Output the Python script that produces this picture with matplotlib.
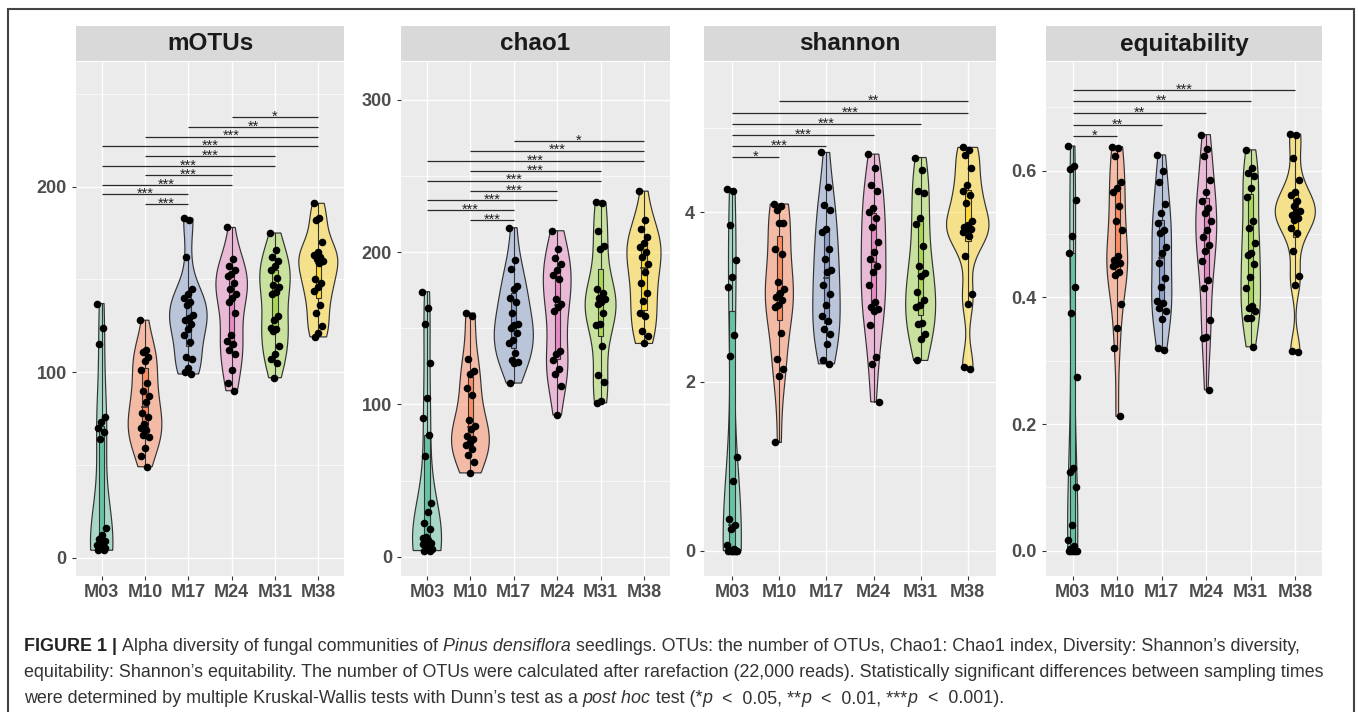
import numpy as np
import matplotlib
matplotlib.use("Agg")
import matplotlib.pyplot as plt
from matplotlib.patches import Rectangle, Polygon
from matplotlib.colors import to_rgba
from matplotlib.ticker import MultipleLocator, FormatStrFormatter

plt.rcParams['font.family'] = ['Liberation Sans', 'DejaVu Sans']

groups = ["M03", "M10", "M17", "M24", "M31", "M38"]
colors = ["#66C2A5", "#FC8D62", "#8DA0CB", "#E78AC3", "#A6D854", "#FFD92F"]

# sample values per sampling time
motus = [
    [137, 124, 115, 76, 73, 70, 68, 64, 16, 12, 10, 9, 8, 7, 6, 6, 5, 5, 4, 4],
    [128, 112, 111, 108, 106, 101, 94, 90, 87, 84, 78, 76, 72, 70, 69, 66, 65, 59, 55, 49],
    [183, 182, 162, 145, 142, 140, 138, 136, 131, 129, 128, 126, 123, 120, 116, 108, 107, 102, 100, 99],
    [178, 161, 157, 155, 153, 152, 148, 145, 142, 140, 138, 132, 120, 117, 115, 112, 110, 101, 94, 90],
    [175, 166, 162, 160, 157, 155, 151, 147, 146, 143, 142, 130, 128, 124, 123, 122, 114, 110, 107, 105, 97],
    [191, 183, 182, 170, 165, 163, 162, 161, 160, 159, 150, 148, 146, 144, 136, 132, 125, 121, 119],
]
chao1 = [
    [174, 163, 153, 127, 104, 91, 80, 66, 35, 29, 22, 18, 13, 12, 11, 10, 9, 9, 8, 7, 6, 5, 5, 4, 4],
    [160, 158, 130, 122, 120, 111, 106, 90, 86, 84, 79, 77, 75, 73, 71, 67, 62, 55],
    [216, 195, 189, 178, 176, 170, 167, 160, 153, 152, 150, 147, 142, 140, 134, 129, 128, 127, 114],
    [214, 202, 196, 192, 188, 185, 182, 169, 166, 164, 161, 135, 133, 129, 123, 120, 112, 93],
    [233, 232, 214, 204, 202, 176, 173, 170, 169, 167, 166, 160, 153, 152, 138, 119, 115, 102, 101],
    [240, 221, 215, 210, 206, 203, 200, 197, 192, 187, 180, 173, 168, 160, 158, 148, 145, 140],
]
shannon = [
    [4.28, 4.25, 3.85, 3.44, 3.24, 3.12, 2.55, 2.30, 1.11, 0.82, 0.37, 0.30, 0.26, 0.07, 0.02, 0.01,
     0.0, 0.0, 0.0, 0.0, 0.0, 0.0, 0.0],
    [4.10, 4.08, 4.03, 3.88, 3.87, 3.57, 3.51, 3.18, 3.10, 3.05, 3.00, 2.96, 2.91, 2.88, 2.58, 2.27, 2.15, 2.07, 1.28],
    [4.71, 4.30, 4.09, 4.03, 3.81, 3.77, 3.57, 3.45, 3.32, 3.30, 3.14, 3.04, 2.90, 2.78, 2.72, 2.62, 2.56, 2.45, 2.25, 2.21],
    [4.69, 4.53, 4.32, 4.25, 4.05, 4.01, 3.93, 3.83, 3.65, 3.53, 3.45, 3.37, 3.30, 3.14, 2.94, 2.88, 2.86, 2.84,
     2.67, 2.29, 2.21, 1.76],
    [4.65, 4.50, 4.25, 4.23, 3.93, 3.86, 3.60, 3.37, 3.28, 3.25, 3.06, 2.96, 2.90, 2.88, 2.69, 2.68, 2.56, 2.50, 2.25],
    [4.77, 4.74, 4.68, 4.53, 4.32, 4.25, 4.21, 4.11, 3.90, 3.85, 3.83, 3.81, 3.80, 3.77, 3.72, 3.49, 3.04, 2.92,
     2.17, 2.15],
]
equit = [
    [0.639, 0.607, 0.602, 0.554, 0.497, 0.470, 0.417, 0.375, 0.275, 0.13, 0.125, 0.10, 0.04, 0.017, 0.007, 0.003,
     0.0, 0.0, 0.0, 0.0, 0.0],
    [0.638, 0.636, 0.624, 0.583, 0.573, 0.567, 0.545, 0.520, 0.507, 0.465, 0.459, 0.455, 0.452, 0.449, 0.44,
     0.436, 0.390, 0.352, 0.320, 0.212],
    [0.625, 0.600, 0.582, 0.548, 0.533, 0.518, 0.507, 0.502, 0.480, 0.470, 0.454, 0.431, 0.417, 0.394, 0.391,
     0.383, 0.379, 0.366, 0.320, 0.317],
    [0.657, 0.634, 0.624, 0.586, 0.566, 0.553, 0.541, 0.533, 0.520, 0.507, 0.495, 0.482, 0.474, 0.457, 0.428,
     0.415, 0.364, 0.338, 0.336, 0.254],
    [0.633, 0.604, 0.597, 0.591, 0.573, 0.559, 0.520, 0.510, 0.486, 0.470, 0.467, 0.452, 0.433, 0.415, 0.386,
     0.383, 0.378, 0.367, 0.367, 0.322],
    [0.658, 0.656, 0.620, 0.586, 0.566, 0.562, 0.552, 0.545, 0.536, 0.535, 0.530, 0.525, 0.523, 0.510, 0.502,
     0.474, 0.434, 0.420, 0.315, 0.314],
]

# pairwise Dunn test brackets (group numbers are 1-based)
motus_pairs = [(2, 3), (1, 3), (1, 4), (2, 4), (1, 5), (2, 5), (1, 6), (2, 6), (3, 6), (4, 6)]
motus_stars = ["***"] * 8 + ["**", "*"]
motus_sig_y = [190.7, 195.9, 201.0, 206.1, 211.3, 216.5, 221.8, 227.0, 232.2, 237.4]

chao1_pairs = [(2, 3), (1, 3), (1, 4), (2, 4), (1, 5), (2, 5), (1, 6), (2, 6), (3, 6)]
chao1_stars = ["***"] * 8 + ["*"]
chao1_sig_y = [220.9, 227.4, 234.0, 240.3, 246.9, 253.4, 260.0, 266.6, 273.1]

shannon_pairs = [(1, 2), (1, 3), (1, 4), (1, 5), (1, 6), (2, 6)]
shannon_stars = ["*", "***", "***", "***", "***", "**"]
shannon_sig_y = [4.659, 4.789, 4.919, 5.050, 5.180, 5.314]

equit_pairs = [(1, 2), (1, 3), (1, 4), (1, 5), (1, 6)]
equit_stars = ["*", "**", "**", "**", "***"]
equit_sig_y = [0.6544, 0.6727, 0.6907, 0.7096, 0.7275]

W, H = 1358, 712
fig = plt.figure(figsize=(W / 100, H / 100), dpi=100)
fig.patch.set_facecolor("white")

panels = [
    ("mOTUs", motus, motus_pairs, motus_stars, motus_sig_y, (-9.9, 267.2), 100, 50, "%d", 75.7, 344.3),
    ("chao1", chao1, chao1_pairs, chao1_stars, chao1_sig_y, (-12.7, 324.8), 100, 50, "%d", 401, 670),
    ("shannon", shannon, shannon_pairs, shannon_stars, shannon_sig_y, (-0.30, 5.78), 2, 1, "%d", 704, 996),
    ("equitability", equit, equit_pairs, equit_stars, equit_sig_y, (-0.0399, 0.7717), 0.2, 0.1, "%.1f", 1046, 1322),
]

top_px, bot_px = 62, 576
edge = "#333333"


def nrd0(x):
    n = len(x)
    sd = np.std(x, ddof=1)
    q75, q25 = np.percentile(x, [75, 25])
    lo = min(sd, (q75 - q25) / 1.34)
    if lo <= 0:
        lo = sd if sd > 0 else 1.0
    return 0.9 * lo * n ** -0.2


def kde(x, grid, bw):
    z = (grid[:, None] - x[None, :]) / bw
    return np.exp(-0.5 * z ** 2).sum(axis=1) / (len(x) * bw * np.sqrt(2 * np.pi))


for title, data, pairs, stars, sig_y, ylim, major, minor, fmt, x0, x1 in panels:
    ax = fig.add_axes([x0 / W, (H - bot_px) / H, (x1 - x0) / W, (bot_px - top_px) / H])
    ax.set_facecolor("#EBEBEB")
    for s in ax.spines.values():
        s.set_visible(False)
    ax.set_xlim(0.4, 6.6)
    ax.set_ylim(*ylim)
    ax.yaxis.set_major_locator(MultipleLocator(major))
    ax.yaxis.set_minor_locator(MultipleLocator(minor))
    ax.yaxis.set_major_formatter(FormatStrFormatter(fmt))
    ax.set_xticks(range(1, 7))
    ax.set_xticklabels(groups)
    ax.set_axisbelow(True)
    ax.grid(True, which="major", color="white", lw=1.0)
    ax.grid(True, which="minor", axis="y", color="white", lw=0.5)
    ax.tick_params(axis="both", which="major", length=3, width=0.8, color=edge,
                   labelsize=13, labelcolor="#4D4D4D")
    ax.tick_params(axis="y", which="major", pad=3.5)
    ax.tick_params(axis="x", which="major", pad=2.5)
    ax.tick_params(which="minor", length=0)
    for lab in ax.get_xticklabels() + ax.get_yticklabels():
        lab.set_fontweight("bold")

    # violins scaled by area: widest density in the panel gets width 0.9
    dens = []
    for vals in data:
        v = np.asarray(vals, float)
        grid = np.linspace(v.min(), v.max(), 512)
        dens.append((grid, kde(v, grid, nrd0(v))))
    dmax = max(d.max() for _, d in dens)

    for i, (vals, col) in enumerate(zip(data, colors)):
        pos = i + 1
        v = np.asarray(vals, float)
        grid, d = dens[i]
        hw = 0.45 * d / dmax
        xs = np.r_[pos - hw, (pos + hw)[::-1]]
        ys = np.r_[grid, grid[::-1]]
        ax.add_patch(Polygon(np.c_[xs, ys], closed=True, facecolor=to_rgba(col, 0.5),
                             edgecolor=edge, lw=0.85, zorder=2))

        q1, med, q3 = np.percentile(v, [25, 50, 75])
        iqr = q3 - q1
        lo = v[v >= q1 - 1.5 * iqr].min()
        hi = v[v <= q3 + 1.5 * iqr].max()
        ax.plot([pos, pos], [q3, hi], color=edge, lw=0.8, zorder=3)
        ax.plot([pos, pos], [lo, q1], color=edge, lw=0.8, zorder=3)
        ax.add_patch(Rectangle((pos - 0.06, q1), 0.12, q3 - q1, facecolor=col,
                               edgecolor=edge, lw=0.8, zorder=3))
        ax.plot([pos - 0.06, pos + 0.06], [med, med], color=edge, lw=1.2, zorder=3)

        # deterministic jitter
        jit = ((np.arange(len(v)) * 0.618034) % 1.0 - 0.5) * 0.22
        ax.scatter(pos + jit, v, s=30, color="black", linewidths=0, zorder=4)

    for (g1, g2), lab, yy in zip(pairs, stars, sig_y):
        ax.plot([g1, g2], [yy, yy], color="#2A2A2A", lw=0.9, zorder=3,
                solid_capstyle="butt")
        ax.annotate(lab, xy=((g1 + g2) / 2, yy), xytext=(0, -2.6),
                    textcoords="offset points", ha="center", va="baseline",
                    fontsize=10.5, color="#222222", zorder=3)

    # facet strip
    ph = bot_px - top_px
    ax.add_patch(Rectangle((0, 1 + 1.5 / ph), 1, 34.5 / ph, transform=ax.transAxes,
                           facecolor="#D9D9D9", edgecolor="none", clip_on=False))
    ax.text(0.5, 1 + 18 / ph, title, transform=ax.transAxes, ha="center", va="center",
            fontsize=17.5, fontweight="bold", color="#1A1A1A")

# outer frame
fig.patches.append(Rectangle((8 / W, -0.05), (1354 - 8) / W, 1 - 9 / H + 0.05,
                             transform=fig.transFigure, fill=False,
                             edgecolor="#444444", lw=1.5))

# caption
cap_lines = [
    [("FIGURE 1 | ", "bold", "normal"),
     ("Alpha diversity of fungal communities of ", "normal", "normal"),
     ("Pinus densiflora", "normal", "italic"),
     (" seedlings. OTUs: the number of OTUs, Chao1: Chao1 index, Diversity: Shannon\u2019s diversity,",
      "normal", "normal")],
    [("equitability: Shannon\u2019s equitability. The number of OTUs were calculated after rarefaction "
      "(22,000 reads). Statistically significant differences between sampling times", "normal", "normal")],
    [("were determined by multiple Kruskal-Wallis tests with Dunn\u2019s test as a ", "normal", "normal"),
     ("post hoc", "normal", "italic"), (" test (*", "normal", "normal"), ("p", "normal", "italic"),
     ("  <  0.05, **", "normal", "normal"), ("p", "normal", "italic"), ("  <  0.01, ***", "normal", "normal"),
     ("p", "normal", "italic"), ("  <  0.001).", "normal", "normal")],
]
cap_baselines = [651, 677, 703]
cap_x0 = 24

renderer = fig.canvas.get_renderer()


def run_width(s, size, weight, style):
    t = fig.text(0, 0, s + "x", fontsize=size, fontweight=weight, fontstyle=style)
    w1 = t.get_window_extent(renderer).width
    t.set_text("x")
    w2 = t.get_window_extent(renderer).width
    t.remove()
    return w1 - w2


ref = cap_lines[1][0][0]
cap_size = 10 * (1330 - cap_x0) / run_width(ref, 10, "normal", "normal")

for runs, base in zip(cap_lines, cap_baselines):
    x = cap_x0
    for s, weight, style in runs:
        fig.text(x / W, 1 - base / H, s, fontsize=cap_size, fontweight=weight,
                 fontstyle=style, color="#222222" if weight == "bold" else "#333333",
                 va="baseline", ha="left")
        x += run_width(s, cap_size, weight, style)

fig.savefig("out.png", dpi=100, facecolor="white")
